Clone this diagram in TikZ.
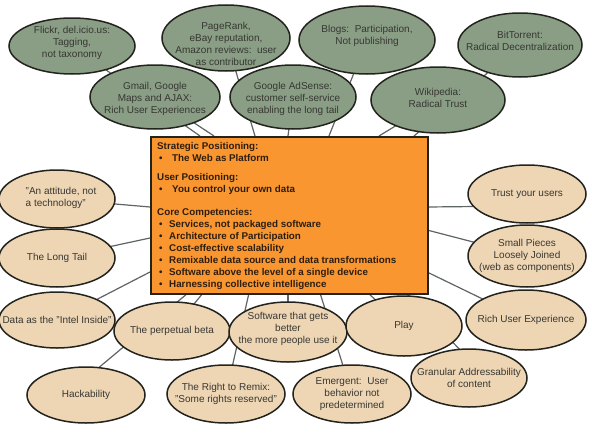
\documentclass[tikz,border=0pt]{standalone}
\usepackage{fontspec}
\setmainfont{Liberation Sans}
\usetikzlibrary{shapes.geometric,calc}
\definecolor{sage}{RGB}{137,158,133}
\definecolor{tanfill}{RGB}{238,214,181}
\definecolor{orng}{RGB}{250,150,48}
\definecolor{edgec}{RGB}{35,35,30}
\definecolor{linkc}{RGB}{95,100,100}
\definecolor{ink}{RGB}{55,55,50}
\definecolor{boxink}{RGB}{45,30,15}
\pgfdeclarelayer{paper}
\pgfdeclarelayer{links}
\pgfsetlayers{paper,links,main}
\begin{document}
\begin{tikzpicture}[x=1pt,y=-1pt,
  ell/.style={ellipse, draw=edgec, line width=1.5pt, inner sep=0pt},
  lbl/.style={text=ink, align=center, inner sep=0pt, font=\fontsize{10}{12}\selectfont},
  gr/.style={ell, fill=sage},
  tn/.style={ell, fill=tanfill},
  linkline/.style={draw=linkc, line width=1.2pt}]
\useasboundingbox (0,0) rectangle (592,447);
\begin{pgfonlayer}{paper}
\fill[white] (0,0) rectangle (592,447);
\end{pgfonlayer}

% top green ellipses
\node[gr, minimum width=126, minimum height=56, label={[lbl,yshift=3pt]center:{Flickr, del.icio.us:\\Tagging,\\not taxonomy}}] (flickr) at (72,46) {};
\node[gr, minimum width=128, minimum height=66, label={[lbl,yshift=-6pt]center:{PageRank,\\eBay reputation,\\Amazon reviews:\ \ user\\as contributor}}] (pagerank) at (226,38) {};
\node[gr, minimum width=136, minimum height=68, label={[lbl,yshift=4.5pt]center:{Blogs:\ \ Participation,\\Not publishing}}] (blogs) at (367,40) {};
\node[gr, minimum width=124, minimum height=64, label={[lbl,yshift=4pt]center:{BitTorrent:\\Radical Decentralization}}] (bittorrent) at (520,45) {};
\node[gr, minimum width=130, minimum height=64, label={[lbl,yshift=-2pt]center:{Gmail, Google\\Maps and AJAX:\\Rich User Experiences}}] (gmail) at (155,97) {};
\node[gr, minimum width=126, minimum height=64, label={[lbl,yshift=-2pt]center:{Google AdSense:\\customer self-service\\enabling the long tail}}] (adsense) at (293,97) {};
\node[gr, minimum width=134, minimum height=66, label={[lbl,yshift=2pt]center:{Wikipedia:\\Radical Trust}}] (wiki) at (438,100) {};

% tan ellipses
\node[tn, minimum width=116, minimum height=58, label={[lbl,align=left,yshift=1.5pt,xshift=4pt]center:{"An attitude, not\\a technology"}}] (attitude) at (57,199) {};
\node[tn, minimum width=116, minimum height=58, label={[lbl]center:{The Long Tail}}] (longtail) at (57,258) {};
\node[tn, minimum width=116, minimum height=56, label={[lbl]center:{Data as the "Intel Inside"}}] (dataintel) at (57,320) {};
\node[tn, minimum width=116, minimum height=58, label={[lbl]center:{The perpetual beta}}] (beta) at (172,331) {};
\node[tn, minimum width=118, minimum height=56, label={[lbl]center:{Hackability}}] (hack) at (86,395) {};
\node[tn, minimum width=118, minimum height=58, label={[lbl]center:{The Right to Remix:\\"Some rights reserved"}}] (remix) at (226,394) {};
\node[tn, minimum width=118, minimum height=60, label={[lbl,yshift=3pt]center:{Software that gets\\better\\the more people use it}}] (software) at (288,332) {};
\node[tn, minimum width=116, minimum height=60, label={[lbl]center:{Play}}] (play) at (404,326) {};
\node[tn, minimum width=118, minimum height=58, label={[lbl]center:{Emergent:\ \ User\\behavior not\\predetermined}}] (emergent) at (352,394) {};
\node[tn, minimum width=116, minimum height=58, label={[lbl]center:{Granular Addressability\\of content}}] (granular) at (469,378) {};
\node[tn, minimum width=120, minimum height=60, label={[lbl]center:{Rich User Experience}}] (richue) at (526,320) {};
\node[tn, minimum width=118, minimum height=58, label={[lbl]center:{Trust your users}}] (trust) at (527,194) {};
\node[tn, minimum width=118, minimum height=62, label={[lbl]center:{Small Pieces\\Loosely Joined\\(web as components)}}] (smallpieces) at (527,256) {};

% central box
\node[draw=edgec, line width=1.5pt, fill=orng, minimum width=277, minimum height=157, inner sep=0pt, anchor=north west] (box) at (150,136) {};
\node[anchor=north west, align=left, inner sep=0pt, text=boxink, font=\fontsize{9.8}{12}\selectfont\bfseries] (boxtext) at (157,142) {%
Strategic Positioning:\\
\hspace*{2pt}\makebox[13pt][l]{•}The Web as Platform\\[7pt]
User Positioning:\\
\hspace*{2pt}\makebox[13pt][l]{•}You control your own data\\[11pt]
Core Competencies:\\
\hspace*{2pt}\makebox[10pt][l]{•}Services, not packaged software\\
\hspace*{2pt}\makebox[10pt][l]{•}Architecture of Participation\\
\hspace*{2pt}\makebox[10pt][l]{•}Cost-effective scalability\\
\hspace*{2pt}\makebox[10pt][l]{•}Remixable data source and data transformations\\
\hspace*{2pt}\makebox[10pt][l]{•}Software above the level of a single device\\
\hspace*{2pt}\makebox[10pt][l]{•}Harnessing collective intelligence};

% attachment points on the box border
\coordinate (tflickr) at (200,136);
\coordinate (tgmail) at (214,136);
\coordinate (tpage) at (255,136);
\coordinate (tads) at (288,136);
\coordinate (tblogs) at (329,136);
\coordinate (twiki) at (379,136);
\coordinate (tbit) at (414,136);
\coordinate (latt) at (150,207);
\coordinate (llong) at (150,238);
\coordinate (ldata) at (150,272);
\coordinate (bhack) at (188,293);
\coordinate (bbeta) at (203,293);
\coordinate (bremix) at (249,293);
\coordinate (bsoft) at (288,293);
\coordinate (bemerg) at (320,293);
\coordinate (bplay) at (368,293);
\coordinate (bgran) at (406,293);
\coordinate (rtrust) at (427,207);
\coordinate (rsmall) at (427,230);
\coordinate (rrich) at (427,272);

\begin{pgfonlayer}{links}
\draw[linkline] (flickr.center) -- (tflickr);
\draw[linkline] (gmail.center) -- (tgmail);
\draw[linkline] (pagerank.center) -- (tpage);
\draw[linkline] (adsense.center) -- (tads);
\draw[linkline] (blogs.center) -- (tblogs);
\draw[linkline] (wiki.center) -- (twiki);
\draw[linkline] (bittorrent.center) -- (tbit);
\draw[linkline] (attitude.center) -- (latt);
\draw[linkline] (longtail.center) -- (llong);
\draw[linkline] (dataintel.center) -- (ldata);
\draw[linkline] ($(hack.center)+(-20,0)$) -- (bhack);
\draw[linkline] (beta.center) -- (bbeta);
\draw[linkline] (remix.center) -- (bremix);
\draw[linkline] (software.center) -- (bsoft);
\draw[linkline] (emergent.center) -- (bemerg);
\draw[linkline] (play.center) -- (bplay);
\draw[linkline] ($(granular.center)+(12,-6)$) -- (bgran);
\draw[linkline] ($(trust.center)+(0,12)$) -- (rtrust);
\draw[linkline] (smallpieces.center) -- (rsmall);
\draw[linkline] (richue.center) -- (rrich);
\end{pgfonlayer}
\end{tikzpicture}
\end{document}
